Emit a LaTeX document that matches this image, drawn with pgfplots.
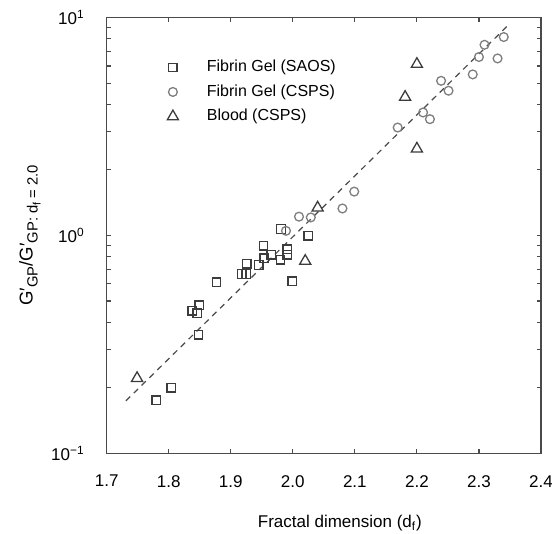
\documentclass[border=0pt]{standalone}
\usepackage{fontspec}
\setmainfont{Liberation Sans}
\usepackage{pgfplots}
\pgfplotsset{compat=1.18}
\definecolor{sqc}{HTML}{3C3C3C}
\definecolor{cic}{HTML}{7E7E7E}
\definecolor{axc}{HTML}{4A4A4A}
\newcommand{\lsub}[1]{\raisebox{-0.5ex}{\fontsize{7.4}{8}\selectfont #1}}
\newcommand{\llsub}[1]{\raisebox{-0.4ex}{\fontsize{5.4}{6}\selectfont #1}}
\pgfplotsset{wide legend/.style={legend image code/.code={\path[draw=none,fill=none] (0pt,0pt) (15pt,0pt); \draw[##1] plot coordinates {(0pt,0pt)};}}}
\begin{document}
\begin{tikzpicture}
\useasboundingbox (-53.35pt,-40.35pt) rectangle (222.7pt,226.65pt);
\begin{axis}[
  at={(0,0)}, anchor=south west,
  scale only axis, width=217.2pt, height=217.8pt,
  xmin=1.7, xmax=2.4, ymode=log, ymin=0.1, ymax=10,
  xtick={1.7,1.8,1.9,2.0,2.1,2.2,2.3,2.4},
  xticklabels={1.7,1.8,1.9,2.0,2.1,2.2,2.3,2.4},
  ytick={0.1,1,10},
  yticklabels={10\textsuperscript{−1},10\textsuperscript{0},10\textsuperscript{1}},
  tick align=inside, tick pos=both,
  major tick length=2.2pt, minor tick length=2pt,
  axis line style={axc, line width=0.7pt},
  every tick/.style={axc, line width=0.6pt},
  tick label style={font=\fontsize{8.5}{10}\selectfont, text=black},
  xticklabel style={yshift=-7.5pt},
  yticklabel style={xshift=-7.5pt},
  xlabel={Fractal dimension (d\textsubscript{f})},
  ylabel={G′\lsub{GP}/G′\lsub{GP: d\llsub{f} = 2.0}},
  xlabel style={font=\fontsize{8.5}{10}\selectfont, at={(axis description cs:0.537,0)}, anchor=center, yshift=-34.8pt},
  ylabel style={font=\fontsize{9.3}{11}\selectfont, at={(axis description cs:-0.1768,0.5)}, anchor=center},
  legend cell align=left,
  legend style={draw=none, fill=none, at={(axis description cs:0.125,0.922)}, anchor=north west,
    font=\fontsize{8}{9.6}\selectfont, row sep=1pt},
]
\addplot[axc, line width=0.6pt, dash pattern=on 3pt off 2.5pt, forget plot] coordinates {(1.731,0.174) (2.348,9.29)};
\addplot[only marks, mark=square, mark size=2.1pt, sqc, line width=0.65pt, wide legend] coordinates {
(1.981,1.071) (2.025,0.995) (1.953,0.895) (1.991,0.864) (1.991,0.814)
(1.965,0.814) (1.954,0.786) (1.980,0.772) (1.926,0.740) (1.945,0.732)
(1.918,0.665) (1.925,0.665) (1.999,0.616) (1.877,0.611) (1.849,0.478)
(1.838,0.451) (1.846,0.439) (1.848,0.350) (1.804,0.200) (1.780,0.175)
};
\addlegendentry{Fibrin Gel (SAOS)}
\addplot[only marks, mark=o, mark size=2.2pt, cic, line width=0.65pt, wide legend] coordinates {
(1.989,1.05) (2.010,1.22) (2.029,1.21) (2.080,1.33) (2.099,1.59)
(2.169,3.13) (2.210,3.67) (2.221,3.42) (2.239,5.13) (2.251,4.62)
(2.290,5.49) (2.300,6.60) (2.309,7.51) (2.330,6.50) (2.340,8.15)
};
\addlegendentry{Fibrin Gel (CSPS)}
\addplot[only marks, mark=triangle, mark size=3.2pt, sqc, line width=0.65pt, wide legend] coordinates {
(1.749,0.221) (2.020,0.763) (2.040,1.34) (2.181,4.32) (2.200,6.12) (2.200,2.50)
};
\addlegendentry{Blood (CSPS)}
\end{axis}
\end{tikzpicture}
\end{document}
